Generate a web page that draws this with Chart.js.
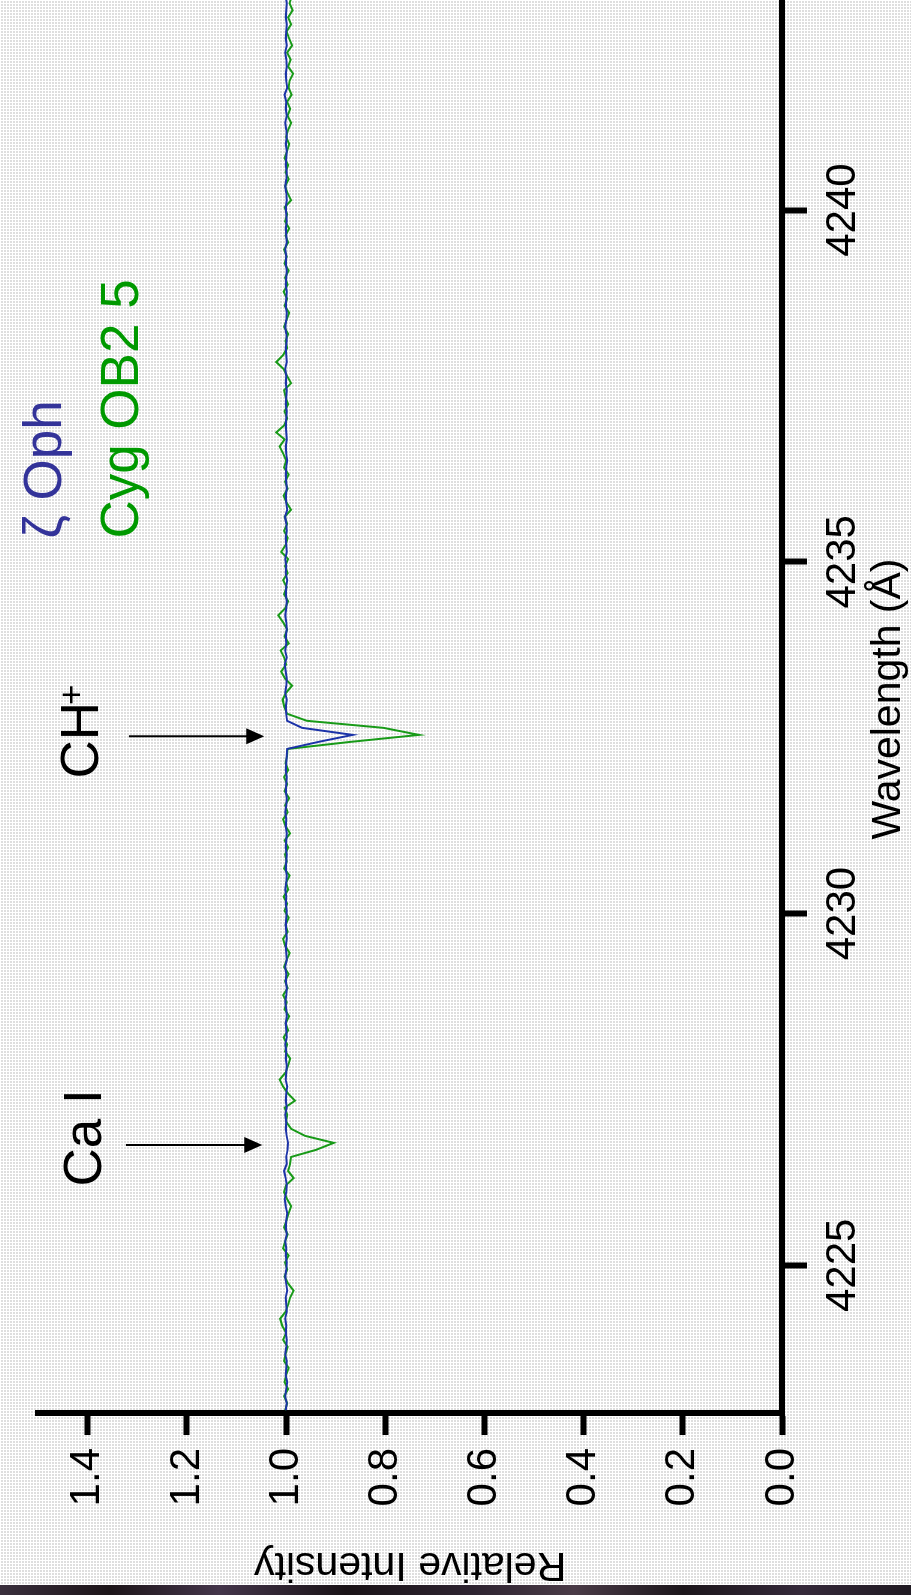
<!DOCTYPE html>
<html>
<head>
<meta charset="utf-8">
<script src="https://cdn.jsdelivr.net/npm/chart.js@4.4.1/dist/chart.umd.min.js"></script>
<style>
  html, body {
    margin: 0;
    padding: 0;
    width: 911px;
    height: 1595px;
    overflow: hidden;
  }
  body {
    position: relative;
    background-color: #dedede;
    background-image:
      linear-gradient(90deg, #ffffff 1px, transparent 1px),
      linear-gradient(#ffffff 1px, transparent 1px);
    background-size: 3px 3px;
  }
  /* the chart is drawn upright, then turned a quarter turn to the left */
  #espectro {
    position: absolute;
    left: 0;
    top: 0;
    width: 1610px;
    height: 911px;
    transform-origin: 0 0;
    transform: translate(0px, 1595px) rotate(-90deg);
  }
  #faixa {
    position: absolute;
    left: 0;
    top: 1585px;
    width: 911px;
    height: 10px;
    background: linear-gradient(90deg, #3a2f3d 0%, #1d1519 12%, #44354a 24%, #1a1317 38%, #2e2431 52%, #4a3b47 63%, #1c161b 75%, #35293a 88%, #201a22 100%);
  }
</style>
</head>
<body>
<canvas id="espectro" width="1610" height="911"></canvas>
<div id="faixa"></div>
<script>
// Comprimento de onda (Å)
const WAVE = [
  4222.94, 4223.04, 4223.14, 4223.24, 4223.34, 4223.44, 4223.54, 4223.64, 4223.74, 4223.84,
  4223.94, 4224.04, 4224.14, 4224.24, 4224.34, 4224.44, 4224.54, 4224.64, 4224.74, 4224.84,
  4224.94, 4225.04, 4225.14, 4225.24, 4225.34, 4225.44, 4225.54, 4225.64, 4225.74, 4225.84,
  4225.94, 4226.04, 4226.14, 4226.24, 4226.34, 4226.44, 4226.54, 4226.64, 4226.74, 4226.84,
  4226.94, 4227.04, 4227.14, 4227.24, 4227.34, 4227.44, 4227.54, 4227.64, 4227.74, 4227.84,
  4227.94, 4228.04, 4228.14, 4228.24, 4228.34, 4228.44, 4228.54, 4228.64, 4228.74, 4228.84,
  4228.94, 4229.04, 4229.14, 4229.24, 4229.34, 4229.44, 4229.54, 4229.64, 4229.74, 4229.84,
  4229.94, 4230.04, 4230.14, 4230.24, 4230.34, 4230.44, 4230.54, 4230.64, 4230.74, 4230.84,
  4230.94, 4231.04, 4231.14, 4231.24, 4231.34, 4231.44, 4231.54, 4231.64, 4231.74, 4231.84,
  4231.94, 4232.04, 4232.14, 4232.24, 4232.34, 4232.44, 4232.54, 4232.64, 4232.74, 4232.84,
  4232.94, 4233.04, 4233.14, 4233.24, 4233.34, 4233.44, 4233.54, 4233.64, 4233.74, 4233.84,
  4233.94, 4234.04, 4234.14, 4234.24, 4234.34, 4234.44, 4234.54, 4234.64, 4234.74, 4234.84,
  4234.94, 4235.04, 4235.14, 4235.24, 4235.34, 4235.44, 4235.54, 4235.64, 4235.74, 4235.84,
  4235.94, 4236.04, 4236.14, 4236.24, 4236.34, 4236.44, 4236.54, 4236.64, 4236.74, 4236.84,
  4236.94, 4237.04, 4237.14, 4237.24, 4237.34, 4237.44, 4237.54, 4237.64, 4237.74, 4237.84,
  4237.94, 4238.04, 4238.14, 4238.24, 4238.34, 4238.44, 4238.54, 4238.64, 4238.74, 4238.84,
  4238.94, 4239.04, 4239.14, 4239.24, 4239.34, 4239.44, 4239.54, 4239.64, 4239.74, 4239.84,
  4239.94, 4240.04, 4240.14, 4240.24, 4240.34, 4240.44, 4240.54, 4240.64, 4240.74, 4240.84,
  4240.94, 4241.04, 4241.14, 4241.24, 4241.34, 4241.44, 4241.54, 4241.64, 4241.74, 4241.84,
  4241.94, 4242.04, 4242.14, 4242.24, 4242.34, 4242.44, 4242.54, 4242.64, 4242.74, 4242.84,
  4242.94, 4243.04, 4243.14, 4243.24
];

// Intensidade relativa - zeta Oph (azul)
const ZETA_OPH = [
  1.001, 0.999, 1.002, 1.000, 0.998, 1.001, 1.000, 0.999, 1.002, 1.000,
  0.999, 1.001, 1.000, 1.002, 0.999, 1.000, 1.001, 0.998, 1.000, 1.002,
  1.000, 0.999, 1.001, 1.000, 1.002, 0.999, 1.001, 1.000, 0.998, 1.001,
  1.003, 1.000, 0.999, 1.001, 1.004, 0.999, 1.000, 0.997, 0.996, 0.999,
  1.001, 1.000, 1.002, 0.999, 1.001, 1.000, 0.998, 1.001, 1.000, 0.999,
  1.001, 1.000, 1.002, 0.999, 1.000, 1.001, 0.999, 1.000, 1.002, 1.000,
  0.999, 1.001, 1.000, 1.002, 0.999, 1.000, 1.001, 0.999, 1.000, 1.001,
  1.000, 0.999, 1.001, 1.000, 1.002, 1.000, 0.999, 1.001, 1.000, 0.999,
  1.001, 1.000, 0.999, 1.001, 1.000, 1.002, 1.000, 0.999, 1.001, 1.000,
  0.999, 1.001, 1.000, 0.999, 0.998, 0.935, 0.866, 0.968, 0.998, 1.000,
  1.001, 0.999, 1.002, 1.000, 0.999, 1.001, 1.003, 0.999, 1.002, 1.000,
  1.001, 0.999, 1.000, 1.002, 1.000, 0.999, 1.001, 1.000, 0.998, 1.001,
  1.000, 1.002, 0.999, 1.000, 1.001, 0.999, 1.000, 1.002, 0.998, 1.000,
  1.001, 0.999, 1.000, 1.001, 1.000, 0.998, 1.000, 1.001, 0.999, 1.000,
  1.001, 1.000, 0.999, 1.001, 1.000, 0.999, 1.001, 1.000, 1.002, 0.999,
  1.000, 1.001, 0.999, 1.000, 1.002, 1.000, 0.999, 1.001, 1.000, 0.999,
  1.001, 1.000, 0.999, 1.001, 1.000, 1.002, 0.999, 1.000, 1.001, 0.999,
  1.000, 1.001, 0.999, 1.000, 1.002, 1.000, 0.999, 1.001, 1.000, 0.999,
  1.001, 0.999, 1.000, 1.002, 0.999, 1.001, 1.000, 1.003, 0.998, 1.000,
  1.001, 0.999, 1.000, 1.002, 0.999, 1.001, 1.000, 0.999, 1.001, 1.000,
  0.999, 1.001, 1.000, 0.999
];

// Intensidade relativa - Cyg OB2 5 (verde)
const CYG_OB2_5 = [
  1.002, 0.998, 1.004, 0.996, 1.003, 1.000, 0.995, 1.004, 1.001, 0.997,
  1.006, 1.000, 1.008, 1.012, 1.001, 0.996, 0.992, 0.985, 0.996, 1.003,
  0.998, 1.002, 0.995, 1.006, 1.002, 0.997, 1.004, 0.999, 0.995, 0.990,
  0.998, 1.004, 1.000, 0.985, 0.996, 0.992, 0.990, 0.940, 0.904, 0.962,
  0.990, 1.000, 0.998, 1.003, 0.982, 0.996, 1.006, 1.013, 1.001, 0.996,
  0.992, 1.002, 0.998, 1.005, 0.996, 1.001, 0.994, 1.003, 0.999, 1.006,
  0.997, 1.002, 0.995, 1.004, 0.999, 0.993, 1.002, 1.006, 0.997, 1.001,
  0.995, 1.003, 0.998, 1.005, 0.996, 1.000, 0.993, 1.004, 0.999, 1.002,
  0.996, 1.003, 0.992, 1.001, 1.006, 0.997, 1.002, 0.994, 1.003, 0.998,
  1.004, 0.996, 1.001, 0.998, 0.997, 0.871, 0.732, 0.804, 0.958, 0.998,
  1.004, 1.007, 1.000, 0.988, 1.002, 1.010, 1.000, 1.004, 1.011, 0.995,
  1.003, 0.998, 1.006, 1.016, 1.002, 0.996, 1.004, 0.999, 1.006, 0.997,
  1.002, 0.996, 1.010, 1.001, 0.997, 1.004, 0.998, 1.003, 0.990, 0.999,
  1.005, 0.997, 1.002, 0.995, 1.004, 1.000, 1.006, 1.013, 1.003, 1.020,
  1.004, 0.998, 1.003, 0.996, 1.001, 1.004, 0.990, 0.998, 1.005, 1.020,
  1.006, 0.998, 1.001, 0.996, 1.004, 0.999, 0.994, 1.003, 0.998, 1.005,
  0.997, 1.002, 0.995, 1.003, 0.999, 1.004, 0.996, 1.001, 0.994, 1.002,
  0.998, 1.003, 0.990, 0.997, 1.002, 0.995, 1.001, 0.996, 1.003, 0.998,
  0.994, 1.000, 0.996, 0.990, 0.997, 0.992, 0.998, 0.989, 0.995, 0.993,
  0.986, 0.996, 0.991, 0.998, 0.988, 0.994, 0.999, 0.990, 0.996, 0.987,
  0.993, 0.989, 0.996, 0.991
];

// Ticks dos eixos
const WAVE_TICKS = [4225, 4230, 4235, 4240];
const INT_TICKS = [0.0, 0.2, 0.4, 0.6, 0.8, 1.0, 1.2, 1.4];

// Linhas marcadas e legenda
const LINE_NAMES = ['Ca I', 'CH'];
const LINE_WAVES = [4226.71, 4232.52];
const SERIES_NAMES = ['ζ Oph', 'Cyg OB2 5'];

const FONTE = '"Liberation Sans", Arial, Helvetica, sans-serif';

function pontos(valores) {
  return WAVE.map((w, i) => ({ x: w, y: valores[i] }));
}

function seta(ctx, px, yTopo, yPonta) {
  ctx.strokeStyle = '#000';
  ctx.fillStyle = '#000';
  ctx.lineWidth = 2;
  ctx.beginPath();
  ctx.moveTo(px, yTopo);
  ctx.lineTo(px, yPonta - 16);
  ctx.stroke();
  ctx.beginPath();
  ctx.moveTo(px - 8, yPonta - 18);
  ctx.lineTo(px + 8, yPonta - 18);
  ctx.lineTo(px, yPonta);
  ctx.closePath();
  ctx.fill();
}

// Desenha as setas, os nomes das linhas e a legenda
const anotacoes = {
  id: 'anotacoes',
  afterDatasetsDraw(chart) {
    const ctx = chart.ctx;
    const x = chart.scales.x;
    const y = chart.scales.y;
    ctx.save();
    ctx.textAlign = 'left';
    ctx.textBaseline = 'alphabetic';

    // legenda
    ctx.font = '53px ' + FONTE;
    ctx.fillStyle = '#333399';
    ctx.fillText(SERIES_NAMES[0], x.getPixelForValue(4235.33), y.getPixelForValue(1.454));
    ctx.fillStyle = '#009900';
    ctx.fillText(SERIES_NAMES[1], x.getPixelForValue(4235.33), y.getPixelForValue(1.298));

    // Ca I
    seta(ctx, x.getPixelForValue(LINE_WAVES[0]), y.getPixelForValue(1.323), y.getPixelForValue(1.048));
    ctx.fillStyle = '#000';
    ctx.font = '53px ' + FONTE;
    ctx.fillText(LINE_NAMES[0], x.getPixelForValue(4226.12), y.getPixelForValue(1.373));

    // CH+
    seta(ctx, x.getPixelForValue(LINE_WAVES[1]), y.getPixelForValue(1.317), y.getPixelForValue(1.044));
    const xCH = x.getPixelForValue(4231.92);
    ctx.fillText(LINE_NAMES[1], xCH, y.getPixelForValue(1.379));
    const largura = ctx.measureText(LINE_NAMES[1]).width;
    ctx.font = '35px ' + FONTE;
    ctx.fillText('+', xCH + largura - 3, y.getPixelForValue(1.41));

    ctx.restore();
  }
};

const ctx = document.getElementById('espectro').getContext('2d');

const grafico = new Chart(ctx, {
  type: 'line',
  data: {
    datasets: [
      {
        label: SERIES_NAMES[0],
        data: pontos(ZETA_OPH),
        borderColor: '#1c33a8',
        borderWidth: 2,
        pointRadius: 0,
        tension: 0
      },
      {
        label: SERIES_NAMES[1],
        data: pontos(CYG_OB2_5),
        borderColor: '#189a18',
        borderWidth: 2,
        pointRadius: 0,
        tension: 0
      }
    ]
  },
  options: {
    responsive: false,
    devicePixelRatio: 1,
    animation: false,
    layout: {
      padding: { top: 28, right: 0, bottom: 0, left: 0 }
    },
    plugins: {
      legend: { display: false },
      tooltip: { enabled: false }
    },
    scales: {
      x: {
        type: 'linear',
        min: 4222.9,
        max: 4243.2,
        afterFit: (scale) => { scale.height = 129; },
        afterBuildTicks: (scale) => { scale.ticks = WAVE_TICKS.map(v => ({ value: v })); },
        grid: {
          drawOnChartArea: false,
          drawTicks: true,
          tickLength: 25,
          tickWidth: 6,
          tickColor: '#000'
        },
        border: { display: true, color: '#000', width: 6 },
        ticks: {
          maxRotation: 0,
          minRotation: 0,
          padding: 11,
          color: '#000',
          font: { family: FONTE, size: 42 },
          callback: (v) => String(v)
        },
        title: {
          display: true,
          text: 'Wavelength (Å)',
          color: '#000',
          font: { family: FONTE, size: 41, lineHeight: 1 },
          padding: { top: 0, bottom: 2 }
        }
      },
      y: {
        type: 'linear',
        min: 0,
        max: 1.5,
        afterFit: (scale) => { scale.width = 182; },
        afterBuildTicks: (scale) => { scale.ticks = INT_TICKS.map(v => ({ value: v })); },
        grid: {
          drawOnChartArea: false,
          drawTicks: true,
          tickLength: 22,
          tickWidth: 6,
          tickColor: '#000'
        },
        border: { display: true, color: '#000', width: 6 },
        ticks: {
          padding: 13,
          color: '#000',
          font: { family: FONTE, size: 42 },
          callback: (v) => Number(v).toFixed(1)
        },
        title: {
          display: true,
          text: 'Relative Intensity',
          color: '#000',
          font: { family: FONTE, size: 41, lineHeight: 1 },
          padding: { top: 10, bottom: 0 }
        }
      }
    }
  },
  plugins: [anotacoes]
});
</script>
</body>
</html>
